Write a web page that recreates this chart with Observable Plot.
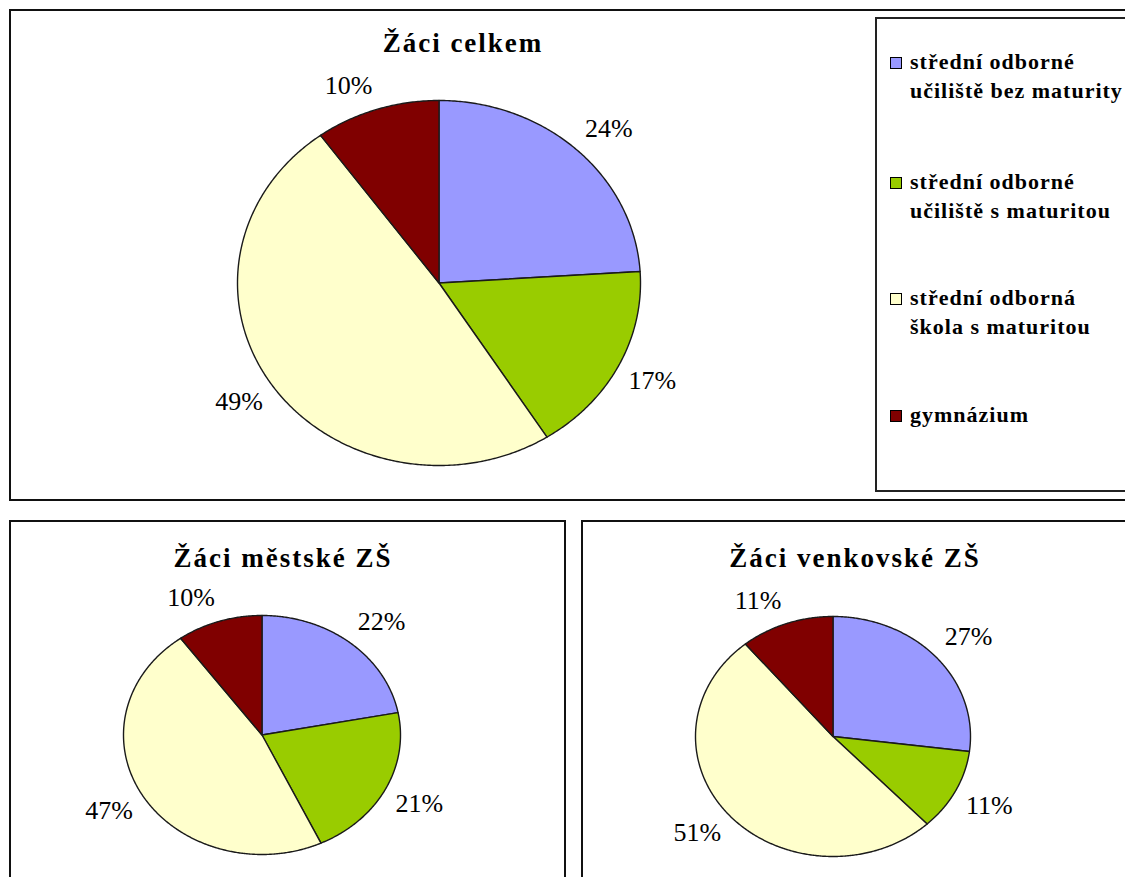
<!DOCTYPE html>
<html><head><meta charset="utf-8">
<script src="https://cdn.jsdelivr.net/npm/d3@7"></script>
<script src="https://cdn.jsdelivr.net/npm/@observablehq/plot@0.6"></script>
<style>
html,body{margin:0;padding:0;background:#fff;overflow:hidden;width:1125px;height:877px}
.box{position:absolute;border:2px solid #111;overflow:hidden;background:#fff}
.box svg{position:absolute;left:0;top:0}
.title{position:absolute;font-family:"Liberation Serif","Times New Roman",serif;font-weight:bold;font-size:27px;letter-spacing:2px;white-space:nowrap;transform:translateX(-50%);line-height:1;color:#000}
.legend{position:absolute;border:2px solid #222;background:#fff}
.entry{position:absolute;left:13px;font-family:"Liberation Serif","Times New Roman",serif;font-weight:bold;font-size:22px;letter-spacing:1px;line-height:29px;color:#000;white-space:nowrap}
.sw{position:absolute;left:0;top:10px;width:10px;height:10px;border:1.5px solid #000}
.txt{position:absolute;left:20px;top:0}
</style>
</head><body>
<script>
// ---- data ----
const categories = ["střední odborné učiliště bez maturity", "střední odborné učiliště s maturitou", "střední odborná škola s maturitou", "gymnázium"];
const legendLines = [["střední odborné", "učiliště bez maturity"], ["střední odborné", "učiliště s maturitou"], ["střední odborná", "škola s maturitou"], ["gymnázium"]];
const colors = ["#9999FF", "#99CC00", "#FFFFCC", "#800000"];
const valuesCelkem = [24, 17, 49, 10];
const valuesMestske = [22, 21, 47, 10];
const valuesVenkovske = [27, 11, 51, 11];
const titles = ["Žáci celkem", "Žáci městské ZŠ", "Žáci venkovské ZŠ"];

const FONT = '"Liberation Serif","Times New Roman",serif';

function pie(values, o) {
  const total = d3.sum(values);
  const pts = [], labels = [];
  let cum = 0;
  values.forEach((v, i) => {
    const a0 = cum / total * 2 * Math.PI;
    cum += v;
    const a1 = cum / total * 2 * Math.PI;
    const cat = categories[i];
    pts.push({cat, x: 0, y: 0});
    const n = Math.max(2, Math.ceil((a1 - a0) / (Math.PI / 360)));
    for (let k = 0; k <= n; k++) {
      const a = a0 + (a1 - a0) * k / n;
      pts.push({cat, x: Math.sin(a), y: Math.cos(a)});
    }
    pts.push({cat, x: 0, y: 0});
    const m = (a0 + a1) / 2, s = Math.sin(m), c = Math.cos(m);
    const d = 10, hw = 25, hh = c > 0 ? 14 : 10;
    labels.push({
      x: s + (d * s + Math.sign(s) * hw) / o.rx,
      y: c + (d * c + Math.sign(c) * hh) / o.ry,
      text: v + "%"
    });
  });
  return Plot.plot({
    width: o.width, height: o.height, margin: 0,
    style: {background: "transparent", overflow: "visible"},
    x: {domain: [-1, 1], range: [o.cx - o.rx, o.cx + o.rx], axis: null},
    y: {domain: [-1, 1], range: [o.cy + o.ry, o.cy - o.ry], axis: null},
    color: {domain: categories, range: colors},
    marks: [
      Plot.line(pts, {x: "x", y: "y", z: "cat", fill: "cat", stroke: "#1a1a1a", strokeWidth: 1.4, curve: "linear", strokeLinejoin: "round"}),
      Plot.text(labels, {x: "x", y: "y", text: "text", fontSize: 26, fontFamily: FONT, fill: "#000"})
    ]
  });
}

function box(left, top, w, h) {
  const b = document.createElement("div");
  b.className = "box";
  Object.assign(b.style, {left: left + "px", top: top + "px", width: w + "px", height: h + "px"});
  document.body.appendChild(b);
  return b;
}
function addTitle(parent, text, cx, top) {
  const t = document.createElement("div");
  t.className = "title";
  t.textContent = text;
  t.style.left = cx + "px";
  t.style.top = top + "px";
  parent.appendChild(t);
}

// top box
const b1 = box(9, 9, 1140, 488);
b1.appendChild(pie(valuesCelkem, {width: 1140, height: 488, cx: 427.5, cy: 271.5, rx: 201.5, ry: 182.5}));
addTitle(b1, titles[0], 452, 19);

// legend
const lg = document.createElement("div");
lg.className = "legend";
Object.assign(lg.style, {left: "864px", top: "6px", width: "300px", height: "471px"});
b1.appendChild(lg);
const entryTops = [28, 148, 264, 381];
categories.forEach((c, i) => {
  const e = document.createElement("div");
  e.className = "entry";
  e.style.top = entryTops[i] + "px";
  const sw = document.createElement("div");
  sw.className = "sw";
  sw.style.background = colors[i];
  e.appendChild(sw);
  const tx = document.createElement("div");
  tx.className = "txt";
  tx.innerHTML = legendLines[i].join("<br>");
  e.appendChild(tx);
  lg.appendChild(e);
});

// bottom left
const b2 = box(9, 520, 553, 380);
b2.appendChild(pie(valuesMestske, {width: 553, height: 380, cx: 250.5, cy: 212.5, rx: 138.5, ry: 119.5}));
addTitle(b2, titles[1], 272, 23);

// bottom right
const b3 = box(581, 520, 600, 380);
b3.appendChild(pie(valuesVenkovske, {width: 600, height: 380, cx: 249.5, cy: 214, rx: 137.5, ry: 120}));
addTitle(b3, titles[2], 272, 23);
</script>
</body></html>
